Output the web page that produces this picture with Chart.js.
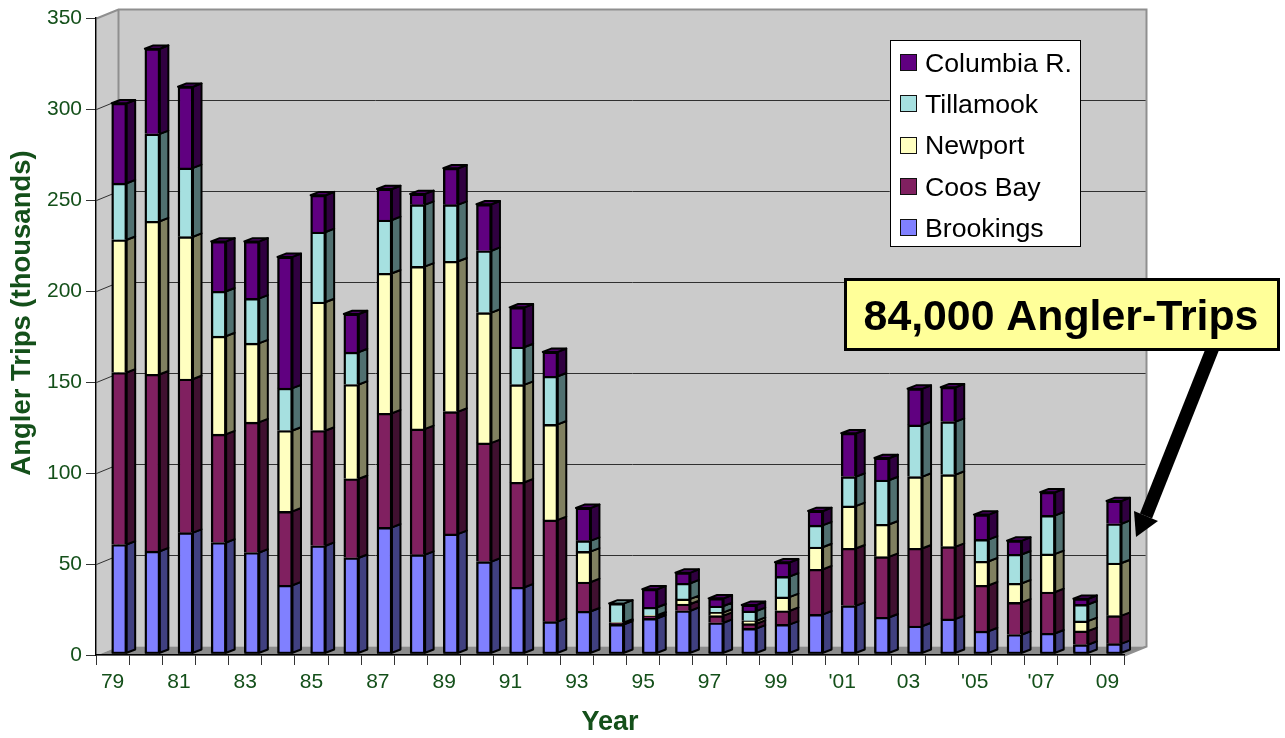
<!DOCTYPE html>
<html>
<head>
<meta charset="utf-8">
<title>Angler Trips</title>
<script src="https://cdn.jsdelivr.net/npm/chart.js@4"></script>
<style>
  html, body { margin: 0; padding: 0; background: #fff; }
  canvas { display: block; }
</style>
</head>
<body>
<canvas id="myChart" width="1285" height="738"></canvas>
<script>
const years = ["79","80","81","82","83","84","85","86","87","88","89","90","91","92","93","94","95","96","97","98","99","00","'01","02","03","04","'05","06","'07","08","09"];
const yTicks = [0, 50, 100, 150, 200, 250, 300, 350];

const brookings = [59.8,56.1,66.3,60.9,55.4,37.4,59.1,52.5,69.2,54.2,65.6,50.4,36.3,17.4,23.1,15.9,19.2,23.4,16.8,13.7,15.9,21.4,26.2,19.8,15,18.9,12.2,10.3,11,4.8,5.3];
const coosBay = [94.5,97.2,84.4,59.5,71.6,40.6,63.3,43.4,62.7,69.1,67.2,65.2,57.7,55.9,16.1,0.6,1.3,3.7,3.9,2.6,7.5,24.8,31.5,33.3,42.7,39.7,25.2,17.7,22.7,7.5,15.4];
const newport = [72.9,84.1,78.2,53.9,43.4,44.4,70.6,51.8,76.9,89.3,82.6,71.6,53.6,52.5,16.8,0.4,0.4,2.8,1.8,1.6,7.6,12.2,23.3,17.8,39.4,39.6,13.2,10.5,20.9,5.5,28.9];
const tillamook = [31.1,48,37.8,24.6,24.6,23.3,38.5,17.8,29.3,33.9,31.1,34,20.7,26.4,5.9,10.5,4.4,8.6,3.5,5.4,11.3,12,16.1,24.3,28.4,29.1,12,15.9,21.2,9.1,21.6];
const columbia = [43.9,46.8,44.6,27.4,31.3,72.1,20.2,20.9,17,5.9,20,25.5,21.8,13.4,18,0,9.9,5.8,4.2,3.3,7.7,7.8,23.8,12.1,19.9,18.9,13.6,7.5,12.7,3.1,12.5];

const green = "#14501a";
const fontName = "'Liberation Sans', Arial, sans-serif";

// front, side and top colours of each stack segment
const frontColors = ["#8080ff", "#802060", "#ffffc0", "#a6e0e0", "#600080"];
const sideColors = ["#404080", "#401030", "#808060", "#507070", "#300040"];
const topColors = ["#6666cc", "#661a4d", "#cccc99", "#85b3b3", "#4d0066"];

// depth of the box and of the bars, in pixels
const wallX = 22, wallY = -9;
const barX = 8.5, barY = -3.3;
const barShiftX = 6.6, barShiftY = -1.7;

function poly(ctx, pts, fill, stroke, lw) {
  ctx.beginPath();
  ctx.moveTo(pts[0][0], pts[0][1]);
  for (let i = 1; i < pts.length; i++) ctx.lineTo(pts[i][0], pts[i][1]);
  ctx.closePath();
  if (fill) { ctx.fillStyle = fill; ctx.fill(); }
  if (stroke) { ctx.strokeStyle = stroke; ctx.lineWidth = lw; ctx.stroke(); }
}

const boxPlugin = {
  id: "box",
  beforeDraw(chart) {
    const ctx = chart.ctx;
    const a = chart.chartArea;
    const y = chart.scales.y;
    const l = a.left + 0.5, r = a.right + 0.5, t = a.top + 0.5, b = a.bottom + 0.5;
    ctx.save();
    // back wall, left wall, floor
    poly(ctx, [[l + wallX, t + wallY], [r + wallX, t + wallY], [r + wallX, b + wallY], [l + wallX, b + wallY]], "#cbcbcb");
    poly(ctx, [[l, t], [l + wallX, t + wallY], [l + wallX, b + wallY], [l, b]], "#cbcbcb");
    poly(ctx, [[l, b], [l + wallX, b + wallY], [r + wallX, b + wallY], [r, b]], "#8c8c8c");
    // grid lines bend round the corner
    ctx.strokeStyle = "#303030";
    ctx.lineWidth = 1;
    yTicks.forEach(v => {
      if (v === 0 || v === 350) return;
      const py = Math.round(y.getPixelForValue(v)) + 0.5;
      ctx.beginPath();
      ctx.moveTo(l, py);
      ctx.lineTo(l + wallX, py + wallY);
      ctx.lineTo(r + wallX, py + wallY);
      ctx.stroke();
    });
    // box edges
    ctx.strokeStyle = "#8f8f8f";
    ctx.lineWidth = 2;
    ctx.beginPath();
    ctx.moveTo(l, t);
    ctx.lineTo(l + wallX, t + wallY);
    ctx.lineTo(r + wallX, t + wallY);
    ctx.lineTo(r + wallX, b + wallY);
    ctx.lineTo(r, b);
    ctx.moveTo(l + wallX, t + wallY);
    ctx.lineTo(l + wallX, b + wallY);
    ctx.stroke();
    ctx.restore();
  },
  beforeDatasetsDraw(chart) {
    const ctx = chart.ctx;
    ctx.save();
    ctx.translate(barShiftX, barShiftY);
    ctx.lineJoin = "round";
    chart.data.datasets.forEach((ds, i) => {
      chart.getDatasetMeta(i).data.forEach((bar, j) => {
        if (ds.data[j] <= 0) return;
        const right = bar.x + bar.width / 2;
        poly(ctx, [[right, bar.y], [right + barX, bar.y + barY], [right + barX, bar.base + barY], [right, bar.base]], sideColors[i], "#000", 2);
      });
    });
    // top face only on the last segment of a stack
    years.forEach((yr, j) => {
      let top = 0;
      chart.data.datasets.forEach((ds, i) => { if (ds.data[j] > 0) top = i; });
      const bar = chart.getDatasetMeta(top).data[j];
      const left = bar.x - bar.width / 2, right = bar.x + bar.width / 2;
      poly(ctx, [[left, bar.y], [left + barX, bar.y + barY], [right + barX, bar.y + barY], [right, bar.y]], topColors[top], "#000", 2);
    });
  },
  afterDatasetsDraw(chart) {
    const ctx = chart.ctx;
    // the bars skip their bottom border, close it here
    chart.getDatasetMeta(0).data.forEach(bar => {
      ctx.strokeStyle = "#000";
      ctx.lineWidth = 2;
      ctx.beginPath();
      ctx.moveTo(bar.x - bar.width / 2, bar.base);
      ctx.lineTo(bar.x + bar.width / 2, bar.base);
      ctx.stroke();
    });
    ctx.restore();
  },
  afterDraw(chart) {
    const ctx = chart.ctx;
    ctx.save();
    // y axis title
    ctx.translate(22, 313);
    ctx.rotate(-Math.PI / 2);
    ctx.font = "bold 27.5px " + fontName;
    ctx.fillStyle = green;
    ctx.textAlign = "center";
    ctx.textBaseline = "middle";
    ctx.fillText("Angler Trips (thousands)", 0, 0);
    ctx.restore();

    // legend, top to bottom is the reverse of the stack
    ctx.save();
    ctx.fillStyle = "#fff";
    ctx.strokeStyle = "#000";
    ctx.lineWidth = 1;
    ctx.fillRect(890.5, 40.5, 190, 206);
    ctx.strokeRect(890.5, 40.5, 190, 206);
    ctx.font = "26.7px " + fontName;
    ctx.textBaseline = "middle";
    chart.data.datasets.slice().reverse().forEach((ds, k) => {
      const cy = 63 + k * 41.25;
      ctx.fillStyle = ds.backgroundColor;
      ctx.fillRect(900.5, Math.round(cy) - 8.5, 16, 16);
      ctx.strokeStyle = "#111";
      ctx.strokeRect(900.5, Math.round(cy) - 8.5, 16, 16);
      ctx.fillStyle = "#000";
      ctx.fillText(ds.label, 925, cy + 1.5);
    });
    ctx.restore();

    // arrow and call-out
    ctx.save();
    ctx.strokeStyle = "#000";
    ctx.lineWidth = 13;
    ctx.beginPath();
    ctx.moveTo(1214, 345);
    ctx.lineTo(1146, 516);
    ctx.stroke();
    poly(ctx, [[1136, 537], [1134, 511], [1158, 521]], "#000");
    ctx.fillStyle = "#ffff99";
    ctx.strokeStyle = "#000";
    ctx.lineWidth = 3;
    ctx.fillRect(845.5, 279.5, 433, 70);
    ctx.strokeRect(845.5, 279.5, 433, 70);
    ctx.fillStyle = "#000";
    ctx.font = "bold 42.8px " + fontName;
    ctx.textAlign = "center";
    ctx.textBaseline = "middle";
    ctx.fillText("84,000 Angler-Trips", 1061, 318);
    ctx.restore();
  }
};

const names = ["Brookings", "Coos Bay", "Newport", "Tillamook", "Columbia R."];
const series = [brookings, coosBay, newport, tillamook, columbia];

const myChart = new Chart(document.getElementById("myChart"), {
  type: "bar",
  data: {
    labels: years,
    datasets: series.map((values, i) => ({
      label: names[i],
      data: values,
      backgroundColor: frontColors[i],
      borderColor: "#000",
      borderWidth: 2.4,
      barThickness: 15,
      clip: false
    }))
  },
  options: {
    responsive: false,
    animation: false,
    layout: { padding: { top: 18, right: 161, left: 0, bottom: 0 } },
    plugins: { legend: { display: false }, tooltip: { enabled: false } },
    scales: {
      x: {
        stacked: true,
        afterFit: s => { s.height = 83; },
        grid: { drawOnChartArea: false, tickLength: 10, tickColor: "#333" },
        border: { color: "#000", width: 1.5 },
        ticks: {
          autoSkip: false,
          maxRotation: 0,
          color: green,
          padding: 5,
          font: { family: fontName, size: 21 },
          callback: function (v, i) { return i % 2 === 0 ? years[i] : ""; }
        },
        title: {
          display: true,
          text: "Year",
          color: green,
          padding: { top: 0, bottom: -1 },
          font: { family: fontName, size: 27, weight: "bold" }
        }
      },
      y: {
        stacked: true,
        min: 0,
        max: 350,
        afterFit: s => { s.width = 96; },
        grid: { drawOnChartArea: false, tickLength: 10, tickColor: "#333" },
        border: { color: "#000", width: 1.5 },
        ticks: {
          stepSize: 50,
          color: green,
          padding: 4,
          font: { family: fontName, size: 21 }
        }
      }
    }
  },
  plugins: [boxPlugin]
});
</script>
</body>
</html>
